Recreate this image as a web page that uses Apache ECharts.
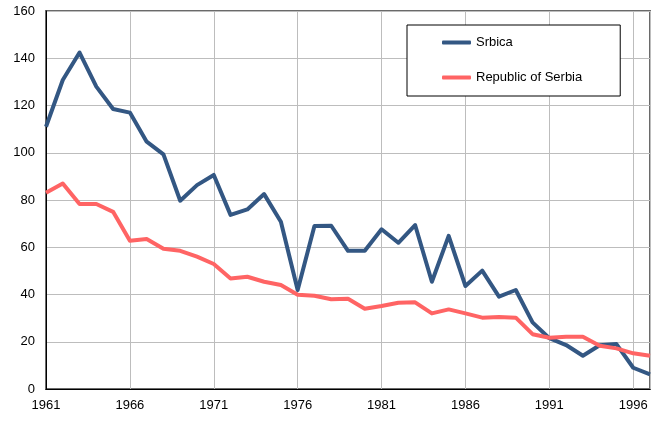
<!doctype html>
<html>
<head>
<meta charset="utf-8">
<title>Srbica vs Republic of Serbia</title>
<script src="https://cdn.jsdelivr.net/npm/echarts@6/dist/echarts.min.js"></script>
<style>
  html, body { margin: 0; padding: 0; background: #fff; }
  #chart { width: 660px; height: 421px; }
</style>
</head>
<body>
<div id="chart"></div>
<script>
// years 1961..1997
let years = [];
for (let y = 1961; y <= 1997; y++) years.push(y);

let srbica = [111, 130.8, 142.4, 128, 118.5, 117, 104.7, 99.3, 79.7, 86.3,
              90.6, 73.7, 76, 82.5, 70.8, 41.9, 69, 69.1, 58.5, 58.5,
              67.6, 61.9, 69.4, 45.4, 64.8, 43.6, 50.1, 39.1, 41.9, 28.2,
              21.5, 18.6, 14.1, 18.5, 19, 9, 6.2];

let serbia = [83.1, 87, 78.3, 78.3, 75, 62.8, 63.5, 59.4, 58.5, 56,
              52.9, 46.8, 47.5, 45.4, 44, 39.9, 39.5, 38, 38.2, 34,
              35.1, 36.5, 36.7, 32, 33.7, 32, 30.2, 30.5, 30.2, 23.2,
              21.7, 22.1, 22.1, 18.3, 17.2, 15.1, 14.1];

let seriesNames = ['Srbica', 'Republic of Serbia'];

function pairs(vals) {
  return vals.map(function (v, i) { return [years[i], v]; });
}

var chart = echarts.init(document.getElementById('chart'));
var font = '"Liberation Sans", Arial, sans-serif';

var option = {
  animation: false,
  textStyle: { fontFamily: font },
  grid: {
    left: 46, right: 10, top: 11, bottom: 32,
    show: true, borderColor: '#6a6a6a', borderWidth: 2
  },
  legend: {
    data: seriesNames,
    orient: 'vertical',
    left: 407, top: 25,
    padding: [11, 38, 12, 35],
    itemGap: 22,
    itemWidth: 29, itemHeight: 4,
    icon: 'roundRect',
    backgroundColor: '#fff',
    borderColor: '#000', borderWidth: 1,
    borderRadius: 0,
    textStyle: { fontSize: 13, color: '#000', fontFamily: font }
  },
  xAxis: {
    type: 'value',
    min: 1961, max: 1997, interval: 5,
    axisLine: { show: true, onZero: false, lineStyle: { color: '#000', width: 1 } },
    axisTick: { show: false },
    axisLabel: {
      fontSize: 13, color: '#000', margin: 10, showMaxLabel: false,
      formatter: function (v) { return String(v); }
    },
    splitLine: { show: true, lineStyle: { color: '#bdbdbd', width: 1 } }
  },
  yAxis: {
    type: 'value',
    min: 0, max: 160, interval: 20,
    axisLine: { show: true, lineStyle: { color: '#000', width: 1 } },
    axisTick: { show: false },
    axisLabel: { fontSize: 13, color: '#000', margin: 11 },
    splitLine: { show: true, lineStyle: { color: '#bdbdbd', width: 1 } }
  },
  series: [
    {
      name: seriesNames[0], type: 'line', symbol: 'none',
      data: pairs(srbica),
      color: '#335783',
      lineStyle: { width: 4, color: '#335783', join: 'round' }
    },
    {
      name: seriesNames[1], type: 'line', symbol: 'none',
      data: pairs(serbia),
      color: '#ff6464',
      lineStyle: { width: 4, color: '#ff6464', join: 'round' }
    }
  ]
};
chart.setOption(option);
</script>
</body>
</html>
